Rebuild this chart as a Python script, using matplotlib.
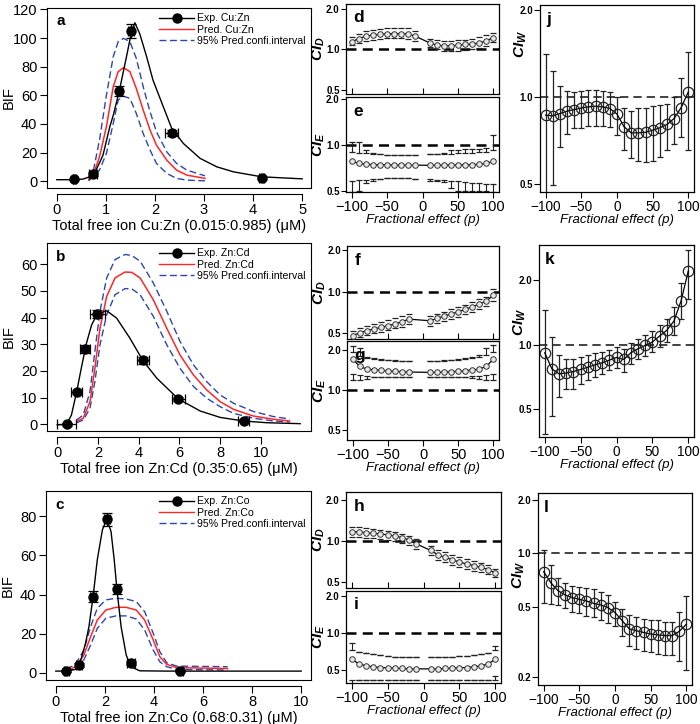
import matplotlib
matplotlib.use('Agg')
import matplotlib.pyplot as plt
from matplotlib.lines import Line2D
from matplotlib.ticker import FixedLocator, NullLocator, FixedFormatter

plt.rcParams['font.family'] = ['Liberation Sans', 'DejaVu Sans']
plt.rcParams['mathtext.fontset'] = 'custom'
plt.rcParams['mathtext.it'] = 'Liberation Sans:italic:bold'
plt.rcParams['mathtext.rm'] = 'Liberation Sans:bold'
plt.rcParams['mathtext.bf'] = 'Liberation Sans:bold'

# ---------------- data: BIF panels ----------------
a_fit_x = [0.0, 0.3, 0.53, 0.67, 0.80, 0.94, 1.08, 1.15, 1.27, 1.42, 1.52, 1.59, 1.69, 1.83, 1.96, 2.17, 2.34, 2.58, 2.92, 3.26, 3.6, 4.18, 5.0]
a_fit_y = [1.0, 1.0, 1.4, 3.0, 7.7, 18, 38, 46, 62.5, 87, 104, 110.7, 103, 87, 70.6, 52, 37, 26.3, 15.9, 10, 6.5, 3, 1.6]
a_pred_x = [0.65, 0.74, 0.87, 1.01, 1.15, 1.25, 1.36, 1.49, 1.62, 1.76, 1.9, 2.03, 2.24, 2.44, 2.65, 3.02]
a_pred_y = [0.7, 4.2, 17, 38, 66, 76.5, 79.3, 76.5, 64.8, 49.7, 35.7, 25.2, 14.7, 7.7, 4.2, 1.9]
a_up_y = [1.0, 6.5, 28.7, 60, 87, 97.4, 99.8, 97.4, 85.8, 66, 48.5, 34.5, 20.5, 12.4, 7.7, 3.7]
a_lo_y = [0.3, 3.0, 7.7, 19.3, 40.3, 56.6, 59.4, 57.8, 47.3, 33.3, 21.7, 12.4, 5.4, 1.9, 0.7, 0.2]
a_exp_x = [0.36, 0.74, 1.27, 1.51, 2.34, 4.18]
a_exp_y = [1.2, 4.9, 62.9, 104.9, 33.8, 2.3]
a_exp_xerr = [0.04, 0.08, 0.05, 0.06, 0.13, 0.05]
a_exp_yerr = [0.5, 1.5, 3.3, 4.6, 2.2, 0.6]

b_fit_x = [0.0, 0.46, 0.7, 0.95, 1.2, 1.44, 1.69, 1.97, 2.43, 2.92, 3.57, 4.2, 4.89, 5.95, 7.02, 8.0, 9.15, 10.3, 11.93]
b_fit_y = [-0.2, 0.0, 3.5, 12, 21.7, 30.5, 37.3, 41.4, 42.6, 39.8, 32.3, 24, 17.3, 9.5, 5, 2.6, 1.25, 0.6, 0.25]
b_pred_x = [0.95, 1.28, 1.61, 1.85, 2.1, 2.43, 2.84, 3.33, 3.66, 4.07, 4.72, 5.38, 6.03, 6.69, 7.34, 8.0, 8.66, 9.64, 10.62, 11.41]
b_pred_y = [1, 2.3, 8.5, 21, 36, 48, 54.9, 57.1, 57, 54.9, 46.7, 36, 26, 18.5, 12.9, 8.5, 5.6, 3.1, 1.9, 1.25]
b_up_y = [1.6, 3.5, 12.3, 27.3, 42.4, 54.9, 61.8, 63.7, 63.3, 61.2, 53, 42.4, 31.1, 22.3, 16, 11, 7.9, 4.8, 2.9, 2.0]
b_lo_y = [0.6, 1.6, 6, 16, 29.8, 41.1, 48.6, 50.9, 50.8, 48.6, 40.5, 29.8, 21, 14.2, 9.8, 6.6, 4.1, 2.3, 1.25, 0.9]
b_exp_x = [0.46, 0.95, 1.36, 1.97, 4.2, 5.95, 9.15]
b_exp_y = [0.0, 12, 28.2, 41.4, 24, 9.5, 1.4]
b_exp_xerr = [0.45, 0.25, 0.25, 0.37, 0.29, 0.33, 0.29]
b_exp_yerr = [0.6, 0.8, 1.5, 1.5, 1.2, 0.8, 0.5]

c_fit_x = [0.0, 0.43, 0.8, 0.96, 1.21, 1.35, 1.52, 1.69, 1.9, 2.08, 2.25, 2.38, 2.49, 2.66, 2.87, 3.07, 3.42, 4.52, 10.0]
c_fit_y = [0.85, 0.9, 1.7, 3.9, 15, 23.6, 39, 57.8, 73.2, 78.6, 72.3, 57.8, 42.7, 23.6, 9, 3, 1, 0.85, 0.85]
c_pred_x = [0.43, 0.8, 1.14, 1.42, 1.69, 2.04, 2.45, 2.86, 3.28, 3.62, 3.97, 4.24, 4.52, 4.93, 7.0]
c_pred_y = [1, 3, 9, 18.5, 27, 32.1, 33.5, 33.5, 32.1, 27, 16.8, 8.2, 4.3, 2.6, 2.2]
c_up_y = [1.7, 4.3, 11.6, 23.6, 33, 37.3, 38.1, 37.8, 36.4, 31.3, 20.2, 10.8, 5.1, 3.4, 3.1]
c_lo_y = [0.5, 2.2, 6.5, 14.2, 22.7, 27.9, 29.1, 29.1, 27.5, 21.9, 11.6, 5.6, 3.1, 1.7, 1.4]
c_exp_x = [0.43, 0.96, 1.52, 2.08, 2.49, 3.07, 5.07]
c_exp_y = [0.9, 3.9, 39, 78.6, 42.7, 4.8, 0.7]
c_exp_xerr = [0.1, 0.12, 0.12, 0.12, 0.12, 0.15, 0.1]
c_exp_yerr = [0.5, 1.0, 2.6, 3.3, 2.6, 1.0, 0.5]

# ---------------- data: CI panels ----------------
p21 = [-100, -90, -80, -70, -60, -50, -40, -30, -20, -10, 0, 10, 20, 30, 40, 50, 60, 70, 80, 90, 100]
p20 = [-100, -90, -80, -70, -60, -50, -40, -30, -20, -10, 10, 20, 30, 40, 50, 60, 70, 80, 90, 100]
p19 = [-100, -90, -80, -70, -60, -50, -40, -30, -20, 10, 20, 30, 40, 50, 60, 70, 80, 90, 100]

d_y = [1.137, 1.203, 1.251, 1.279, 1.293, 1.308, 1.308, 1.308, 1.30, 1.251, 1.118, 1.075, 1.063, 1.063, 1.075, 1.088, 1.094, 1.118, 1.156, 1.223]
d_up = [1.237, 1.308, 1.36, 1.398, 1.422, 1.438, 1.446, 1.446, 1.43, 1.367, 1.202, 1.169, 1.156, 1.156, 1.169, 1.183, 1.202, 1.237, 1.272, 1.322]
d_lo = [1.075, 1.118, 1.156, 1.183, 1.202, 1.216, 1.216, 1.216, 1.202, 1.156, 1.046, 1.0, 0.978, 0.972, 0.978, 0.989, 1.0, 1.028, 1.063, 1.137]

e_y = [0.78, 0.755, 0.745, 0.742, 0.74, 0.738, 0.737, 0.736, 0.735, 0.735, 0.734, 0.734, 0.735, 0.736, 0.737, 0.739, 0.741, 0.745, 0.755, 0.78]
e_up = [0.90, 0.89, 0.88, 0.87, 0.865, 0.86, 0.86, 0.86, 0.86, 0.86, 0.865, 0.865, 0.87, 0.875, 0.88, 0.885, 0.89, 0.895, 0.90, 0.92]
e_lo = [0.58, 0.585, 0.59, 0.595, 0.60, 0.605, 0.607, 0.607, 0.607, 0.60, 0.595, 0.59, 0.585, 0.58, 0.575, 0.57, 0.565, 0.56, 0.555, 0.55]
e_out_up = [1.05, 1.05, 0.93, 0.89, 0.87, 0.86, 0.86, 0.86, 0.86, 0.86, 0.87, 0.87, 0.89, 0.92, 0.93, 0.935, 0.94, 0.945, 0.95, 1.16]
e_out_lo = [0.49, 0.50, 0.56, 0.578, 0.60, 0.605, 0.607, 0.607, 0.607, 0.60, 0.578, 0.578, 0.57, 0.52, 0.50, 0.50, 0.50, 0.50, 0.50, 0.49]

f_y = [0.481, 0.505, 0.523, 0.537, 0.552, 0.568, 0.584, 0.607, 0.634, 0.617, 0.642, 0.667, 0.690, 0.717, 0.745, 0.779, 0.814, 0.856, 0.946]
f_up = [0.520, 0.543, 0.565, 0.581, 0.600, 0.621, 0.642, 0.667, 0.690, 0.667, 0.690, 0.717, 0.745, 0.771, 0.801, 0.837, 0.880, 0.920, 1.04]
f_lo = [0.447, 0.468, 0.486, 0.500, 0.514, 0.528, 0.543, 0.559, 0.581, 0.568, 0.590, 0.614, 0.635, 0.660, 0.686, 0.717, 0.750, 0.788, 0.861]

g_y = [1.72, 1.516, 1.447, 1.431, 1.414, 1.398, 1.39, 1.382, 1.374, 1.366, 1.366, 1.374, 1.382, 1.39, 1.406, 1.422, 1.447, 1.516, 1.72]
g_up = [1.95, 1.82, 1.75, 1.71, 1.69, 1.68, 1.67, 1.665, 1.665, 1.665, 1.665, 1.67, 1.68, 1.69, 1.71, 1.74, 1.78, 1.85, 1.95]
g_lo = [1.32, 1.30, 1.28, 1.27, 1.265, 1.26, 1.26, 1.255, 1.255, 1.255, 1.255, 1.26, 1.26, 1.265, 1.27, 1.28, 1.29, 1.30, 1.32]
g_out_up = [2.17, 2.08, 1.80, 1.74, 1.71, 1.69, 1.68, 1.67, 1.67, 1.67, 1.67, 1.68, 1.69, 1.71, 1.74, 1.79, 1.86, 2.08, 2.21]
g_out_lo = [1.20, 1.20, 1.22, 1.25, 1.26, 1.26, 1.26, 1.255, 1.255, 1.255, 1.255, 1.26, 1.26, 1.265, 1.26, 1.24, 1.22, 1.20, 1.20]

h_y = [1.17, 1.163, 1.15, 1.137, 1.126, 1.106, 1.087, 1.057, 1.017, 0.951, 0.85, 0.791, 0.756, 0.727, 0.699, 0.676, 0.658, 0.639, 0.615, 0.581]
h_up = [1.272, 1.257, 1.237, 1.216, 1.202, 1.183, 1.157, 1.125, 1.094, 1.034, 0.920, 0.860, 0.822, 0.791, 0.760, 0.735, 0.714, 0.688, 0.661, 0.622]
h_lo = [1.075, 1.069, 1.057, 1.046, 1.034, 1.017, 1.0, 0.972, 0.935, 0.874, 0.782, 0.727, 0.695, 0.669, 0.643, 0.622, 0.605, 0.588, 0.572, 0.545]

i_y = [0.607, 0.556, 0.536, 0.526, 0.519, 0.516, 0.513, 0.510, 0.506, 0.506, 0.506, 0.506, 0.510, 0.513, 0.516, 0.519, 0.526, 0.536, 0.556, 0.607]
i_up = [0.72, 0.70, 0.68, 0.665, 0.655, 0.645, 0.64, 0.635, 0.632, 0.63, 0.63, 0.632, 0.635, 0.64, 0.645, 0.652, 0.66, 0.67, 0.69, 0.72]
i_lo = [0.41, 0.41, 0.407, 0.407, 0.407, 0.407, 0.407, 0.407, 0.407, 0.407, 0.407, 0.407, 0.407, 0.407, 0.407, 0.407, 0.407, 0.407, 0.41, 0.41]
i_out_up = [0.82, 0.70, 0.68, 0.665, 0.655, 0.645, 0.64, 0.635, 0.632, 0.63, 0.63, 0.632, 0.635, 0.64, 0.645, 0.652, 0.66, 0.67, 0.69, 0.78]
i_out_lo = [0.38, 0.41, 0.407, 0.407, 0.407, 0.407, 0.407, 0.407, 0.407, 0.407, 0.407, 0.407, 0.407, 0.407, 0.407, 0.407, 0.407, 0.407, 0.41, 0.44]

j_y = [0.865, 0.86, 0.876, 0.893, 0.904, 0.916, 0.924, 0.929, 0.924, 0.912, 0.872, 0.788, 0.751, 0.751, 0.755, 0.767, 0.782, 0.803, 0.842, 0.919, 1.04]
j_up = [1.41, 1.23, 1.088, 1.049, 1.04, 1.049, 1.054, 1.054, 1.049, 1.04, 1.0, 0.919, 0.893, 0.913, 0.919, 0.933, 0.941, 0.948, 1.0, 1.166, 1.43]
j_lo = [0.45, 0.496, 0.669, 0.747, 0.778, 0.782, 0.792, 0.792, 0.792, 0.784, 0.738, 0.655, 0.613, 0.600, 0.597, 0.602, 0.621, 0.655, 0.690, 0.728, 0.655]

k_y = [0.917, 0.771, 0.730, 0.738, 0.749, 0.766, 0.785, 0.805, 0.823, 0.847, 0.872, 0.853, 0.917, 0.958, 0.993, 1.03, 1.098, 1.168, 1.29, 1.605, 2.21]
k_up = [1.45, 1.087, 0.90, 0.86, 0.86, 0.875, 0.891, 0.917, 0.924, 0.94, 0.975, 0.958, 1.022, 1.067, 1.106, 1.16, 1.233, 1.325, 1.504, 1.936, 2.78]
k_lo = [0.381, 0.465, 0.567, 0.621, 0.621, 0.655, 0.687, 0.705, 0.731, 0.758, 0.777, 0.749, 0.814, 0.86, 0.885, 0.924, 0.975, 1.029, 1.106, 1.325, 1.645]

l_y = [0.788, 0.683, 0.616, 0.582, 0.562, 0.55, 0.538, 0.522, 0.511, 0.494, 0.463, 0.417, 0.374, 0.365, 0.357, 0.35, 0.346, 0.343, 0.343, 0.362, 0.397]
l_up = [1.053, 0.86, 0.722, 0.677, 0.654, 0.648, 0.634, 0.626, 0.608, 0.582, 0.533, 0.483, 0.449, 0.434, 0.426, 0.42, 0.42, 0.408, 0.411, 0.469, 0.574]
l_lo = [0.522, 0.518, 0.511, 0.489, 0.469, 0.459, 0.445, 0.435, 0.42, 0.403, 0.386, 0.339, 0.3, 0.288, 0.279, 0.275, 0.271, 0.267, 0.267, 0.245, 0.218]

# ---------------- figure ----------------
W, H = 700, 724
fig = plt.figure(figsize=(W / 100, H / 100), dpi=100)


def px(l, t, r, b):
    return [l / W, 1 - b / H, (r - l) / W, (b - t) / H]


RED = '#ff2626'
BLUE = '#2c46b0'


def bif_panel(rect, letter, xlim, ylim, xticks, yticks, fx, fy, qx, qy, uy, ly,
              ex, ey, exe, eye, names, xlabel):
    ax = fig.add_axes(px(*rect))
    ax.plot(qx, uy, color=BLUE, lw=1.0, ls=(0, (5, 2.5)))
    ax.plot(qx, ly, color=BLUE, lw=1.0, ls=(0, (5, 2.5)))
    ax.plot(qx, qy, color=RED, lw=1.1)
    ax.plot(fx, fy, color='black', lw=1.0)
    ax.errorbar(ex, ey, xerr=exe, yerr=eye, fmt='o', color='black', ms=6.5,
                capsize=3.5, elinewidth=0.9, capthick=0.9, zorder=5)
    ax.set_xlim(*xlim)
    ax.set_ylim(*ylim)
    ax.set_xticks(xticks)
    ax.set_yticks(yticks)
    ax.tick_params(labelsize=10.5, length=5, width=0.8, pad=2)
    ax.spines['bottom'].set_position(('outward', 4))
    ax.spines['bottom'].set_bounds(xticks[0], xticks[-1])
    ax.plot([0, 1], [0, 0], transform=ax.transAxes, color='black', lw=0.8,
            clip_on=False)
    for s in ax.spines.values():
        s.set_linewidth(0.8)
    ax.set_ylabel('BIF', fontsize=10.5)
    ax.yaxis.set_label_coords(-0.118, 0.5)
    ax.set_xlabel(xlabel, fontsize=10.5, labelpad=1)
    ax.text(0.035, 0.965, letter, transform=ax.transAxes, fontsize=11,
            fontweight='bold', va='top', ha='left')
    handles = [Line2D([], [], color='black', marker='o', ms=6.5, lw=1.0),
               Line2D([], [], color=RED, lw=1.0),
               Line2D([], [], color=BLUE, lw=1.0, ls=(0, (5, 2.5)))]
    ax.legend(handles, names, loc='upper right', bbox_to_anchor=(1.0, 1.0),
              frameon=False, fontsize=7.6, handlelength=3.3, labelspacing=0.12,
              handletextpad=0.3, borderpad=0.35, borderaxespad=0.15)
    return ax


bif_panel((47, 8, 311, 188), 'a', (-0.2, 5.18), (-4.8, 121), [0, 1, 2, 3, 4, 5],
          [0, 20, 40, 60, 80, 100, 120], a_fit_x, a_fit_y, a_pred_x, a_pred_y,
          a_up_y, a_lo_y, a_exp_x, a_exp_y, a_exp_xerr, a_exp_yerr,
          ['Exp. Cu:Zn', 'Pred. Cu:Zn', '95% Pred.confi.interval'],
          'Total free ion Cu:Zn (0.015:0.985) (\u03bcM)')
bif_panel((47, 243, 311, 431), 'b', (-0.5, 12.46), (-2.5, 68), [0, 2, 4, 6, 8, 10],
          [0, 10, 20, 30, 40, 50, 60], b_fit_x, b_fit_y, b_pred_x, b_pred_y,
          b_up_y, b_lo_y, b_exp_x, b_exp_y, b_exp_xerr, b_exp_yerr,
          ['Exp. Zn:Cd', 'Pred. Zn:Cd', '95% Pred.confi.interval'],
          'Total free ion Zn:Cd (0.35:0.65) (\u03bcM)')
bif_panel((46, 491, 311, 680), 'c', (-0.4, 10.4), (-3.7, 93), [0, 2, 4, 6, 8, 10],
          [0, 20, 40, 60, 80], c_fit_x, c_fit_y, c_pred_x, c_pred_y,
          c_up_y, c_lo_y, c_exp_x, c_exp_y, c_exp_xerr, c_exp_yerr,
          ['Exp. Zn:Co', 'Pred. Zn:Co', '95% Pred.confi.interval'],
          'Total free ion Zn:Co (0.68:0.31) (\u03bcM)')

PT = [-100, -50, 0, 50, 100]
CAPC = '#222222'


def ci_small(rect, letter, ylim, x, y, up, lo, out_up=None, out_lo=None,
             ylabel='', bottom=False):
    ax = fig.add_axes(px(*rect))
    ax.set_yscale('log')
    ax.axhline(1.0, color='black', lw=1.8, ls=(0, (4, 2.5)), zorder=1)
    ax.plot(x, up, ls='none', marker='_', ms=4.2, mew=0.9, color=CAPC)
    ax.plot(x, lo, ls='none', marker='_', ms=4.2, mew=0.9, color=CAPC)
    if out_up is not None:
        ax.vlines(x, up, out_up, color=CAPC, lw=0.8)
        ax.vlines(x, lo, out_lo, color=CAPC, lw=0.8)
        ax.plot(x, out_up, ls='none', marker='_', ms=4.2, mew=0.9, color=CAPC)
        ax.plot(x, out_lo, ls='none', marker='_', ms=4.2, mew=0.9, color=CAPC)
    ax.plot(x, y, color='black', lw=0.9, marker='o', ms=4, mfc='#e6e6e6',
            mec='#333333', mew=0.7, zorder=4)
    ax.set_xlim(-108, 108)
    ax.set_ylim(*ylim)
    ax.yaxis.set_major_locator(FixedLocator([0.5, 1.0, 2.0]))
    ax.yaxis.set_major_formatter(FixedFormatter(['0.5', '1.0', '2.0']))
    ax.yaxis.set_minor_locator(NullLocator())
    ax.set_xticks(PT)
    ax.tick_params(axis='y', labelsize=7, length=3.5, width=0.8, pad=1)
    for t in ax.get_yticklabels():
        t.set_fontweight('bold')
    if bottom:
        ax.tick_params(axis='x', labelsize=10.5, length=4, width=0.8, pad=2)
        ax.set_xlabel('Fractional effect (p)', fontsize=9.5, style='italic',
                      labelpad=0)
    else:
        ax.tick_params(axis='x', direction='in', length=4, width=0.8,
                       labelbottom=False)
    for s in ax.spines.values():
        s.set_linewidth(0.9)
    ax.set_ylabel(ylabel, fontsize=11)
    ax.yaxis.set_label_coords(-0.125, 0.5)
    ax.text(0.05, 0.93, letter, transform=ax.transAxes, fontsize=12.5,
            fontweight='bold', va='top', ha='left')
    return ax


ci_small((346, 4, 499, 94), 'd', (0.47, 2.16), p20, d_y, d_up, d_lo,
         ylabel=r'$\mathit{CI_D}$')
ci_small((346, 97, 499, 192), 'e', (0.49, 2.06), p20, e_y, e_up, e_lo, e_out_up,
         e_out_lo, ylabel=r'$\mathit{CI_E}$', bottom=True)
ci_small((347, 246, 499, 339), 'f', (0.455, 2.15), p19, f_y, f_up, f_lo,
         ylabel=r'$\mathit{CI_D}$')
ci_small((347, 341, 499, 440), 'g', (0.42, 2.36), p19, g_y, g_up, g_lo, g_out_up,
         g_out_lo, ylabel=r'$\mathit{CI_E}$', bottom=True)
ci_small((346, 492, 501, 588), 'h', (0.45, 2.29), p20, h_y, h_up, h_lo,
         ylabel=r'$\mathit{CI_D}$')
ci_small((346, 591, 501, 683), 'i', (0.387, 2.22), p20, i_y, i_up, i_lo, i_out_up,
         i_out_lo, ylabel=r'$\mathit{CI_E}$', bottom=True)


def ci_big(rect, letter, ylim, yticks, x, y, up, lo, label_y):
    ax = fig.add_axes(px(*rect))
    ax.set_yscale('log')
    ax.axhline(1.0, color=CAPC, lw=1.2, ls=(0, (5, 3)), zorder=1)
    ax.vlines(x, lo, up, color=CAPC, lw=0.9, zorder=3)
    ax.plot(x, up, ls='none', marker='_', ms=4.5, mew=0.9, color=CAPC)
    ax.plot(x, lo, ls='none', marker='_', ms=4.5, mew=0.9, color=CAPC)
    ax.plot(x, y, color='black', lw=0.9, marker='o', ms=7.5, mfc='none',
            mec=CAPC, mew=0.9, zorder=4)
    ax.set_xlim(-108, 108)
    ax.set_ylim(*ylim)
    ax.yaxis.set_major_locator(FixedLocator(yticks))
    ax.yaxis.set_major_formatter(FixedFormatter(['%.1f' % v for v in yticks]))
    ax.yaxis.set_minor_locator(NullLocator())
    ax.set_xticks(PT)
    ax.tick_params(axis='y', labelsize=7, length=4, width=0.8, pad=1)
    for t in ax.get_yticklabels():
        t.set_fontweight('bold')
    ax.tick_params(axis='x', labelsize=9.8, length=4, width=0.8, pad=2)
    ax.set_xlabel('Fractional effect (p)', fontsize=9.5, style='italic', labelpad=0)
    for s in ax.spines.values():
        s.set_linewidth(0.9)
    ax.set_ylabel(r'$\mathit{CI_W}$', fontsize=11)
    ax.yaxis.set_label_coords(-0.07, label_y)
    ax.text(0.04, 0.965, letter, transform=ax.transAxes, fontsize=12.5,
            fontweight='bold', va='top', ha='left')
    return ax


ci_big((540, 5, 694, 192), 'j', (0.469, 2.08), [0.5, 1.0, 2.0], p21, j_y, j_up, j_lo, 0.79)
ci_big((539, 245, 694, 437), 'k', (0.37, 2.93), [0.5, 1.0, 2.0], p21, k_y, k_up, k_lo, 0.6)
ci_big((538, 493, 692, 685), 'l', (0.18, 2.2), [0.2, 0.5, 1.0, 2.0], p21, l_y, l_up, l_lo, 0.575)

fig.savefig('out.png', dpi=100)
